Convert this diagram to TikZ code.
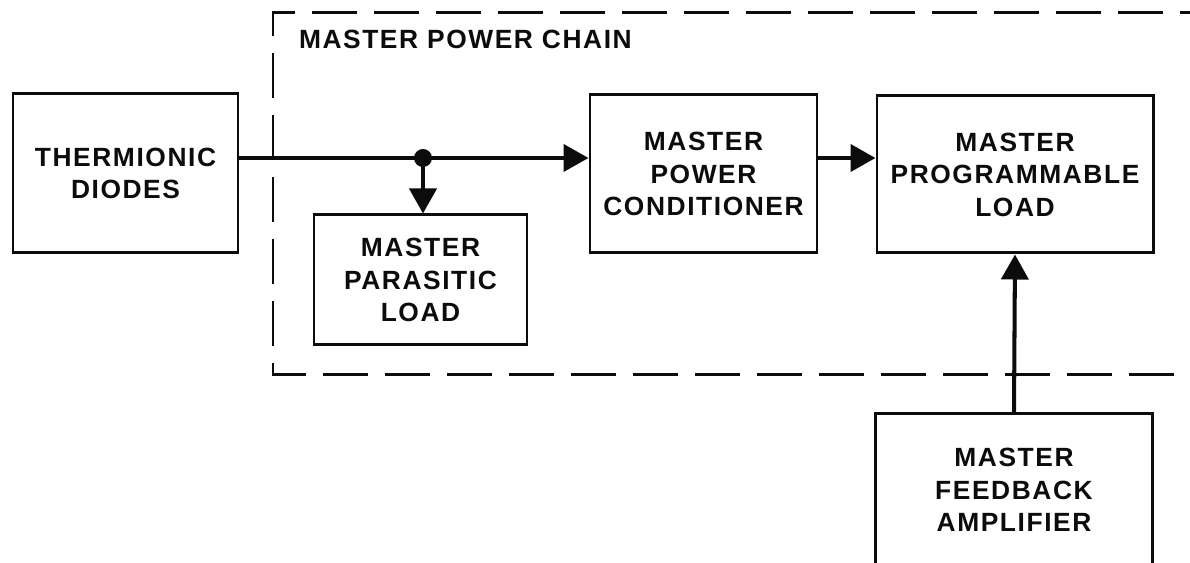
\documentclass[tikz,border=0pt]{standalone}
\usepackage{fontspec}
\usepackage{tikz}
\usetikzlibrary{arrows.meta,calc}
\newfontfamily\blockfont{Liberation Sans}[LetterSpace=6]
\definecolor{inkBlack}{RGB}{12,12,12}
\tikzset{
	mbox/.style={
		draw=inkBlack,
		line width=1.7pt,
		align=center,
		inner sep=2pt,
		text=inkBlack,
		font=\blockfont\fontsize{15}{18.5}\selectfont\bfseries
	},
	marr/.style={-{Triangle[length=0.5cm, width=0.54cm]}, line width=2.3pt, inkBlack},
	mframe/.style={draw=inkBlack, line width=1.7pt, dash pattern=on 0.9cm off 0.34cm}
}
\begin{document}
\begin{tikzpicture}[x=1cm, y=1cm]
		\path[use as bounding box, clip] (0,0) rectangle (23.8,11.26);
		\draw[mframe] (24.5,11.0) -| (5.46,3.76) -- (24.5,3.76);
		\node[mbox, draw=none, anchor=west] (title) at (5.88,10.47) {MASTER POWER CHAIN};
		\node[mbox, minimum width=4.5cm, minimum height=3.18cm] (diodes) at (2.51,7.79) {THERMIONIC\\DIODES};
		\node[mbox, minimum width=4.26cm, minimum height=2.6cm] (parasitic) at (8.41,5.66) {MASTER\\PARASITIC\\LOAD};
		\node[mbox, minimum width=4.54cm, minimum height=3.16cm] (cond) at (14.07,7.78) {MASTER\\POWER\\CONDITIONER};
		\node[mbox, minimum width=5.52cm, minimum height=3.14cm] (prog) at (20.3,7.77) {MASTER\\PROGRAMMABLE\\LOAD};
		\node[mbox, minimum width=5.54cm, minimum height=3.04cm] (amp) at (20.28,1.46) {MASTER\\FEEDBACK\\AMPLIFIER};
		\coordinate (jn) at (8.46,8.10);
		\draw[line width=2.3pt, inkBlack] (diodes.east |- jn) -- (jn);
		\draw[marr] (jn) -- (cond.west |- jn);
		\draw[marr] (jn) -- (parasitic.north -| jn);
		\fill[inkBlack] (jn) circle (0.18);
		\draw[marr] (cond.east |- jn) -- (prog.west |- jn);
		\draw[marr] (amp.north) -- (prog.south);
	\end{tikzpicture}
\end{document}
